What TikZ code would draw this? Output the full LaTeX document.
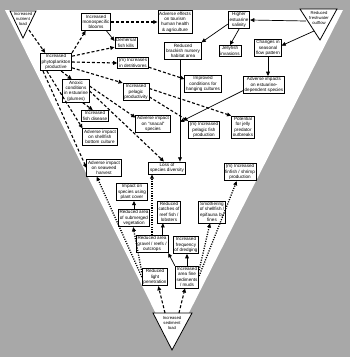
\documentclass[tikz,border=0pt]{standalone}
\usepackage{fontspec}
\setmainfont{Liberation Sans}
\usetikzlibrary{arrows.meta,calc}
\definecolor{scangray}{HTML}{A8A8A8}
\tikzset{
  box/.style={draw=black, line width=0.7pt, fill=white, align=center, inner sep=1.3pt, font=\fontsize{4.6}{5.3}\selectfont},
  trilabel/.style={align=center, inner sep=0pt, font=\fontsize{4.2}{4.9}\selectfont},
  tri/.style={draw=black, line width=0.8pt, fill=white, line join=miter},
  dasharrow/.style={-{Triangle[length=4.2pt,width=3.8pt]}, line width=1.1pt, dash pattern=on 3pt off 2pt},
  dotarrow/.style={-{Triangle[length=4.2pt,width=3.8pt]}, line width=1.3pt, dash pattern=on 1.1pt off 1.3pt},
  solidarrow/.style={-{Triangle[length=4.2pt,width=3.8pt]}, line width=0.7pt}
}
\begin{document}
\begin{tikzpicture}[x=1pt, y=-1pt]
  \useasboundingbox (0,0) rectangle (350,357);
  % background and funnel
  \fill[scangray] (0,0) rectangle (350,357);
  \fill[white] (5,10) -- (343,10) -- (172,346) -- cycle;

  % source triangles
  \draw[tri] (10,11) -- (36,11) -- (23,38) -- cycle;
  \node[trilabel] (nut) at (23,19) {Increased\\nutrient\\load};
  \draw[tri] (300,9) -- (337,9) -- (320,40) -- cycle;
  \node[trilabel] (outflow) at (319,18) {Reduced\\freshwater\\outflow};
  \draw[tri] (153,313) -- (192,313) -- (172,350) -- cycle;
  \node[trilabel] (sed) at (172,323) {Increased\\sediment\\load};
  \coordinate (nutout) at (29,30);
  \coordinate (outL) at (306,21);
  \coordinate (outB) at (314,31);
  \coordinate (sedL) at (165,313);
  \coordinate (sedR) at (179,313);

  % effects
  \node[box] (blooms) at (96,22) {Increased\\monospecific\\blooms};
  \node[box] (tourism) at (175,22) {Adverse effects\\on tourism\\human health\\\& agriculture};
  \node[box] (salinity) at (239,20) {Higher\\estuarine\\salinity};
  \node[box] (phyto) at (56,62) {Increased\\phytoplankton\\productive};
  \node[box] (fishkill) at (126,43) {Demersal\\fish kills};
  \node[box] (nursery) at (183,51) {Reduced\\brackish nursery\\habitat area};
  \node[box] (jelly) at (230,51) {Jellyfish\\invasions};
  \node[box] (flow) at (268,48) {Changes in\\seasonal\\flow pattern};
  \node[box] (detrit) at (133,63) {(m) Increases\\in detritivores};
  \node[box] (anoxic) at (76,91) {Anoxic\\conditions\\in estuarine\\(plumes)};
  \node[box] (hanging) at (203,84) {Improved\\conditions for\\hanging cultures};
  \node[box] (estdep) at (264,85) {Adverse impacts\\on estuarine-\\dependent species};
  \node[box] (pelagic) at (136,92) {Increased\\pelagic\\productivity};
  \node[box] (disease) at (95,116) {Increased\\fish disease};
  \node[box] (snacal) at (153,124) {Adverse impact\\on ``snacal''\\species};
  \node[box] (pelfish) at (204,130) {(m) Increased\\pelagic fish\\production};
  \node[box] (jellypred) at (243,127) {Potential\\for jelly\\predator\\outbreaks};
  \node[box] (shellbot) at (100,137) {Adverse impact\\on shellfish\\bottom culture};
  \node[box] (seaweed) at (104,168) {Adverse impact\\on seaweed\\harvest};
  \node[box] (loss) at (167,168) {Loss of\\species diversity};
  \node[box] (finfish) at (240,172) {(m) Increased\\finfish / shrimp\\production};
  \node[box] (plant) at (132,192) {Impact on\\species using\\plant cover};
  \node[box] (reef) at (169,212) {Reduced\\catches of\\reef fish /\\lobsters};
  \node[box] (smother) at (212,212) {Smothering\\of shellfish /\\epifauna by\\fines};
  \node[box] (subveg) at (134,218) {Reduced area\\of submerged\\vegetation};
  \node[box] (gravel) at (152,244) {Reduced area\\gravel / reefs /\\outcrops};
  \node[box] (dredge) at (186,245) {Increased\\frequency\\of dredging};
  \node[box] (light) at (155,277) {Reduced\\light\\penetration};
  \node[box] (fine) at (187,277) {Increased\\area fine\\sediments\\/ muds};
  \coordinate (merge) at (180,122);

  % nutrient pathway
  \draw[dasharrow] (nutout) -- (phyto.140);
  \draw[dasharrow] (phyto.north east) -- (blooms.-140);
  \draw[dasharrow] (blooms.east) -- (tourism.west);
  \draw[solidarrow] (blooms.-40) -- (fishkill.170);
  \draw[dasharrow] (phyto.20) -- (fishkill.200);
  \draw[dasharrow] (phyto.east) -- (detrit.west);
  \draw[dasharrow] (phyto.-20) -- (pelagic.north west);
  \draw[dasharrow] (phyto.-60) -- (anoxic.110);
  \draw[dasharrow] (phyto.-135) -- (shellbot.north west);
  \draw[dasharrow] (phyto.-145) -- (seaweed.west);
  \draw[dasharrow] (anoxic.-60) -- (disease.110);
  \draw[dasharrow] (anoxic.20) -- (snacal.160);
  \draw[dasharrow] (anoxic.0) -- (loss.115);
  \draw[dasharrow] (detrit.-15) -- (hanging.165);
  \draw[dasharrow] (pelagic.-20) -- (pelfish.north west);
  \draw[dasharrow] (pelagic.15) -- (jellypred.north west);

  % freshwater pathway
  \draw[solidarrow] (outL) -- (salinity.east);
  \draw[solidarrow] (outB) -- (flow.10);
  \draw[solidarrow] (salinity.-160) -- (nursery.north east);
  \draw[solidarrow] (salinity.south) -- (jelly.north);
  \draw[solidarrow] (flow.south) -- (flow.south |- estdep.north);
  \draw[solidarrow] (estdep.-165) -- (merge);
  \draw[solidarrow] (nursery.south -| merge) -- (loss.north -| merge);

  % sediment pathway
  \draw[dasharrow] (sedL) -- (light.-70);
  \draw[dasharrow] (sedR) -- (fine.-100);
  \draw[dotarrow] (light.160) -- (subveg.-95);
  \draw[dotarrow] (light.west) -- (seaweed.-130);
  \draw[solidarrow] (subveg.north) -- (subveg.north |- plant.south);
  \draw[dotarrow] (gravel.north) -- (gravel.north |- loss.south);
  \draw[solidarrow] (gravel.40) -- (gravel.40 |- reef.south);
  \draw[solidarrow] (fine.north west) -- (gravel.south east);
  \draw[solidarrow] (fine.north) -- (fine.north |- dredge.south);
  \draw[dotarrow] (fine.30) -- (smother.-100);
  \draw[dotarrow] (fine.5) -- (finfish.-110);
\end{tikzpicture}
\end{document}
